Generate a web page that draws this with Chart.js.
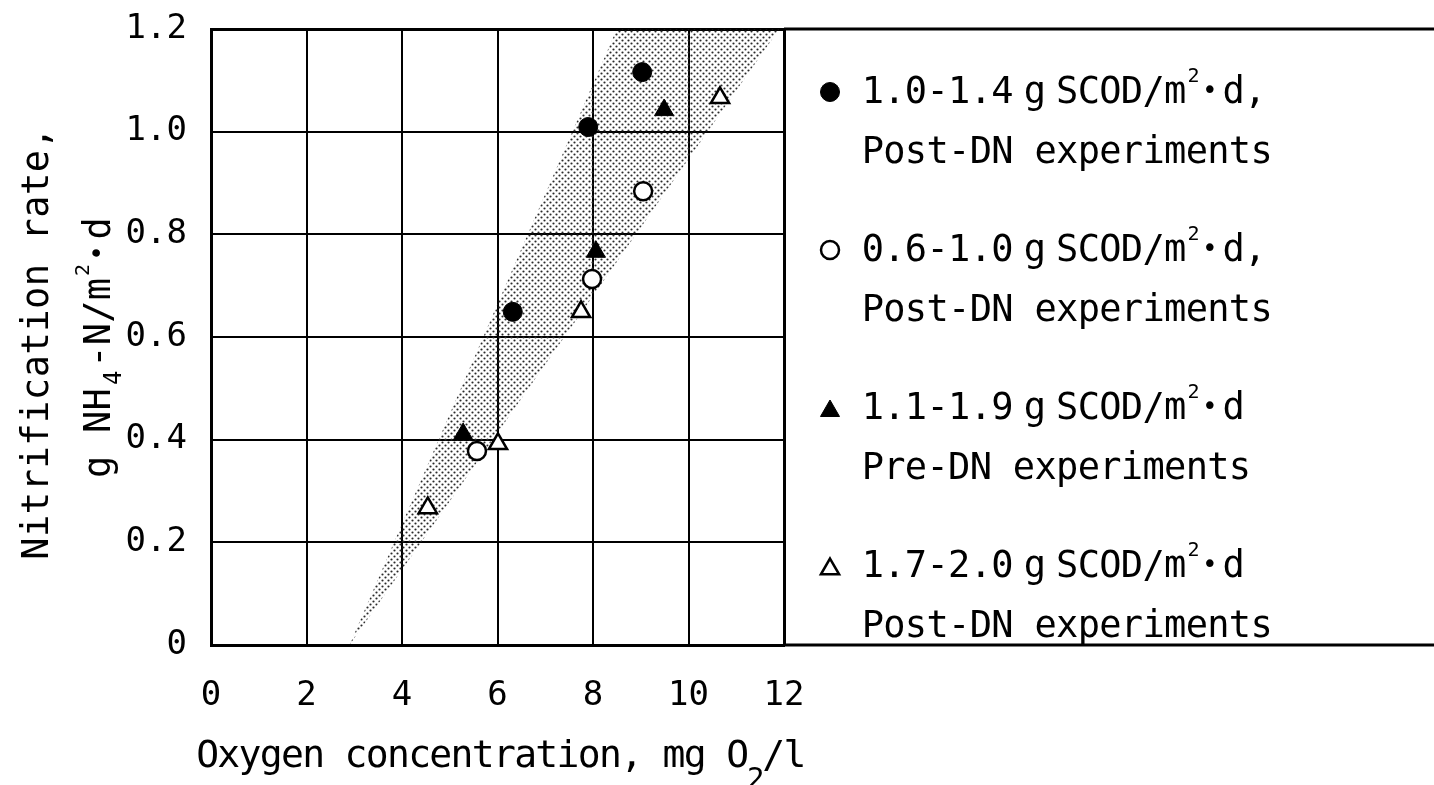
<!DOCTYPE html>
<html>
<head>
<meta charset="utf-8">
<script src="https://cdn.jsdelivr.net/npm/chart.js@4.4.1/dist/chart.umd.min.js"></script>
<style>
  html, body { margin: 0; padding: 0; background: #fff; }
  canvas { display: block; }
</style>
</head>
<body>
<canvas id="chart" width="1434" height="785"></canvas>
<script>
// oxygen concentration (mg O2/l) vs nitrification rate (g NH4-N/m2.d)
const postHighX = [9.03, 7.90, 6.32];
const postHighY = [1.116, 1.009, 0.649];
const postLowX = [9.05, 7.98, 5.57];
const postLowY = [0.884, 0.713, 0.378];
const preX = [9.49, 8.06, 5.28];
const preY = [1.042, 0.766, 0.411];
const postLoadX = [10.66, 7.75, 6.01, 4.54];
const postLoadY = [1.066, 0.649, 0.392, 0.267];

// shaded envelope, upper-left edge and lower-right edge
const bandLeftX = [2.9, 8.5, 11.9];
const bandLeftY = [0, 1.2, 1.2];
const bandRightX = [2.9, 11.9];
const bandRightY = [0, 1.2];

const xTickLabels = ['0', '2', '4', '6', '8', '10', '12'];
const yTickLabels = ['0', '0.2', '0.4', '0.6', '0.8', '1.0', '1.2'];

// '~' half space, '^' raised glyph, '_' lowered glyph
const seriesLabels = [
  ['1.0-1.4~g~SCOD/m^2•d,', 'Post-DN experiments'],
  ['0.6-1.0~g~SCOD/m^2•d,', 'Post-DN experiments'],
  ['1.1-1.9~g~SCOD/m^2•d', 'Pre-DN experiments'],
  ['1.7-2.0~g~SCOD/m^2•d', 'Post-DN experiments']
];
const xTitle = 'Oxygen concentration, mg O_2/l';
const yTitle = ['Nitrification rate,', 'g NH_4-N/m^2•d'];

const FONT = '"DejaVu Sans Mono", monospace';
Chart.defaults.font.family = FONT;

const pts = (xs, ys) => xs.map((x, i) => ({ x: x, y: ys[i] }));

// halftone dots for the envelope
function dotPattern() {
  const c = document.createElement('canvas');
  c.width = 6;
  c.height = 6;
  const g = c.getContext('2d');
  g.fillStyle = '#2a2a2a';
  g.beginPath();
  g.arc(1.5, 1.5, 1.1, 0, Math.PI * 2);
  g.arc(4.5, 4.5, 1.1, 0, Math.PI * 2);
  g.fill();
  return g.createPattern(c, 'repeat');
}

// fixed-pitch text, one cell per glyph
function drawMono(ctx, str, x, y, size, pitch, sub) {
  ctx.textAlign = 'center';
  ctx.textBaseline = 'alphabetic';
  let cx = x;
  for (let i = 0; i < str.length; i++) {
    const ch = str[i];
    if (ch === '~') { cx += pitch / 2; continue; }
    if (ch === '^' || ch === '_') {
      const s = ch === '^' ? { scale: 0.55, dy: -0.58, adv: 0.7 } : sub;
      ctx.font = Math.round(size * s.scale) + 'px ' + FONT;
      ctx.fillText(str[++i], cx + pitch * s.adv / 2, y + size * s.dy);
      cx += pitch * s.adv;
      continue;
    }
    if (ch === '•') {
      ctx.font = Math.round(size * 0.7) + 'px ' + FONT;
      ctx.fillText(ch, cx + pitch * 0.4, y - size * 0.12);
      cx += pitch;
      continue;
    }
    ctx.font = size + 'px ' + FONT;
    ctx.fillText(ch, cx + pitch / 2, y);
    cx += pitch;
  }
}

const framePlugin = {
  id: 'frame',
  afterDraw(chart) {
    const ctx = chart.ctx;
    const area = chart.chartArea;
    ctx.save();
    ctx.fillStyle = '#000';
    ctx.strokeStyle = '#000';

    // box lines running on past the plot into the key
    ctx.lineWidth = 3;
    ctx.beginPath();
    ctx.moveTo(area.right, area.top);
    ctx.lineTo(chart.width, area.top);
    ctx.moveTo(area.right, area.bottom);
    ctx.lineTo(chart.width, area.bottom);
    ctx.stroke();

    // key
    seriesLabels.forEach((lines, i) => {
      const ds = chart.data.datasets[i];
      const base = 103 + i * 158;
      ctx.fillStyle = ds.backgroundColor;
      ctx.strokeStyle = ds.borderColor;
      ctx.lineWidth = ds.borderWidth;
      const dy = ds.pointStyle === 'triangle' ? -8 : -11;
      Chart.helpers.drawPoint(ctx, {
        pointStyle: ds.pointStyle,
        radius: ds.pointRadius,
        borderWidth: ds.borderWidth,
        rotation: 0
      }, 830, base + dy);
      ctx.fillStyle = '#000';
      drawMono(ctx, lines[0], 862, base, 37, 21.6);
      drawMono(ctx, lines[1], 862, base + 60, 37, 21.6);
    });

    // axis titles
    drawMono(ctx, xTitle, 197, 767, 38, 21.2, { scale: 0.75, dy: 0.55, adv: 0.7 });
    const ySub = { scale: 0.65, dy: 0.3, adv: 0.9 };
    ctx.translate(48, 560);
    ctx.rotate(-Math.PI / 2);
    drawMono(ctx, yTitle[0], 0, 0, 37, 22.8, ySub);
    ctx.setTransform(1, 0, 0, 1, 0, 0);
    ctx.translate(110, 478);
    ctx.rotate(-Math.PI / 2);
    drawMono(ctx, yTitle[1], 0, 0, 37, 22.5, ySub);
    ctx.restore();
  }
};

const shade = dotPattern();

new Chart(document.getElementById('chart'), {
  type: 'scatter',
  data: {
    datasets: [
      {
        data: pts(postHighX, postHighY),
        pointStyle: 'circle',
        pointRadius: 9.5,
        backgroundColor: '#000',
        borderColor: '#000',
        borderWidth: 1
      },
      {
        data: pts(postLowX, postLowY),
        pointStyle: 'circle',
        pointRadius: 9,
        backgroundColor: '#fff',
        borderColor: '#000',
        borderWidth: 2.5
      },
      {
        data: pts(preX, preY),
        pointStyle: 'triangle',
        pointRadius: 11,
        backgroundColor: '#000',
        borderColor: '#000',
        borderWidth: 1
      },
      {
        data: pts(postLoadX, postLoadY),
        pointStyle: 'triangle',
        pointRadius: 10.5,
        backgroundColor: '#fff',
        borderColor: '#000',
        borderWidth: 2.5
      },
      {
        type: 'line',
        data: pts(bandLeftX, bandLeftY),
        fill: '+1',
        backgroundColor: shade,
        borderWidth: 0,
        pointRadius: 0,
        tension: 0,
        order: 5
      },
      {
        type: 'line',
        data: pts(bandRightX, bandRightY),
        fill: false,
        borderWidth: 0,
        pointRadius: 0,
        tension: 0,
        order: 5
      }
    ]
  },
  options: {
    responsive: false,
    animation: false,
    events: [],
    layout: { padding: { left: 0, top: 29, right: 650, bottom: 0 } },
    plugins: {
      legend: { display: false },
      tooltip: { enabled: false }
    },
    scales: {
      x: {
        type: 'linear',
        min: 0,
        max: 12,
        afterFit: s => {
          s.height = 140;
          s.paddingLeft = 0;
          s.paddingRight = 0;
        },
        ticks: {
          stepSize: 2,
          padding: 31,
          color: '#000',
          font: { size: 34 },
          callback: (v, i) => xTickLabels[i]
        },
        grid: {
          color: '#000',
          drawTicks: false,
          lineWidth: c => (c.index === xTickLabels.length - 1 ? 3 : 2)
        },
        border: { color: '#000', width: 3 }
      },
      y: {
        type: 'linear',
        min: 0,
        max: 1.2,
        afterFit: s => {
          s.width = 211;
          s.paddingTop = 0;
          s.paddingBottom = 0;
        },
        ticks: {
          stepSize: 0.2,
          padding: 24,
          color: '#000',
          font: { size: 34 },
          callback: (v, i) => yTickLabels[i]
        },
        grid: {
          color: '#000',
          drawTicks: false,
          lineWidth: c => (c.index === yTickLabels.length - 1 ? 3 : 2)
        },
        border: { color: '#000', width: 3 }
      }
    }
  },
  plugins: [framePlugin]
});
</script>
</body>
</html>
